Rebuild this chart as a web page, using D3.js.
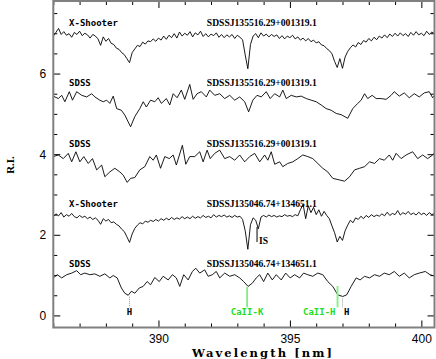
<!DOCTYPE html>
<html>
<head>
<meta charset="utf-8">
<script src="https://cdn.jsdelivr.net/npm/d3@7"></script>
<style>
  body { margin: 0; background: #fff; }
  svg { display: block; }
  .tick text { font-family: "Liberation Sans", Arial, sans-serif; font-size: 12px; fill: #000; }
  .tick line { stroke: #000; stroke-width: 1; }
  .lab { font-family: "DejaVu Sans Mono", monospace; font-weight: bold; font-size: 9px; }
  .obj { font-family: "Liberation Serif", serif; font-weight: bold; font-size: 9.6px; }
  .spec { fill: none; stroke: #000; stroke-width: 0.9; stroke-linejoin: round; }
</style>
</head>
<body>
<div id="chart"></div>
<script>
// ---- data: [wavelength nm, relative intensity] ----
var xsTop = [[386.0,6.93],[386.1,7.02],[386.2,7.12],[386.3,6.97],[386.4,7.04],[386.5,6.95],[386.6,6.99],[386.7,6.90],[386.8,7.02],[386.9,6.97],[387.0,7.05],[387.1,6.94],[387.2,7.00],[387.3,6.96],[387.4,6.88],[387.5,6.97],[387.6,6.93],[387.7,6.86],[387.8,6.70],[387.9,6.91],[388.0,6.80],[388.1,6.87],[388.2,6.75],[388.3,6.72],[388.4,6.63],[388.5,6.60],[388.6,6.52],[388.7,6.47],[388.8,6.37],[388.9,6.27],[389.0,6.52],[389.1,6.61],[389.2,6.70],[389.3,6.67],[389.4,6.78],[389.5,6.73],[389.6,6.81],[389.7,6.79],[389.8,6.86],[389.9,6.80],[390.0,6.88],[390.1,6.83],[390.2,6.93],[390.3,6.85],[390.4,6.95],[390.5,6.89],[390.6,6.99],[390.7,6.88],[390.8,7.03],[390.9,6.93],[391.0,7.00],[391.1,6.95],[391.2,7.04],[391.3,6.91],[391.4,7.01],[391.5,6.96],[391.6,7.05],[391.7,6.92],[391.8,6.99],[391.9,6.91],[392.0,6.98],[392.1,6.94],[392.2,7.01],[392.3,6.90],[392.4,6.97],[392.5,6.89],[392.6,6.96],[392.7,6.91],[392.8,6.97],[392.9,6.87],[393.0,6.95],[393.1,6.90],[393.2,6.84],[393.3,6.46],[393.4,6.12],[393.5,6.72],[393.6,6.93],[393.7,6.99],[393.8,6.89],[393.9,7.01],[394.0,6.93],[394.1,6.98],[394.2,6.91],[394.3,6.97],[394.4,6.92],[394.5,6.96],[394.6,6.87],[394.7,6.94],[394.8,6.86],[394.9,6.93],[395.0,6.89],[395.1,6.95],[395.2,6.86],[395.3,6.91],[395.4,6.83],[395.5,6.88],[395.6,6.81],[395.7,6.87],[395.8,6.79],[395.9,6.83],[396.0,6.76],[396.1,6.79],[396.2,6.71],[396.3,6.69],[396.4,6.62],[396.5,6.57],[396.6,6.49],[396.7,6.30],[396.8,6.15],[396.9,6.37],[397.0,6.13],[397.1,6.41],[397.2,6.55],[397.3,6.64],[397.4,6.71],[397.5,6.66],[397.6,6.77],[397.7,6.72],[397.8,6.82],[397.9,6.78],[398.0,6.87],[398.1,6.81],[398.2,6.90],[398.3,6.84],[398.4,6.93],[398.5,6.88],[398.6,6.96],[398.7,6.89],[398.8,6.98],[398.9,6.92],[399.0,7.00],[399.1,6.93],[399.2,7.01],[399.3,6.94],[399.4,6.99],[399.5,6.92],[399.6,7.02],[399.7,6.95],[399.8,7.04],[399.9,6.96],[400.0,7.00],[400.1,6.94],[400.2,7.05],[400.3,6.97],[400.4,7.03],[400.5,6.99]];

var sdssA = [[386.00,5.44],[386.19,5.38],[386.32,5.46],[386.44,5.30],[386.61,5.55],[386.73,5.34],[386.89,5.55],[387.08,5.46],[387.27,5.42],[387.46,5.50],[387.58,5.42],[387.77,5.34],[387.90,5.30],[388.03,5.34],[388.15,5.26],[388.28,5.44],[388.41,5.13],[388.59,5.09],[388.72,4.97],[388.94,4.68],[389.10,4.93],[389.29,5.13],[389.42,5.30],[389.54,5.17],[389.70,5.34],[389.86,5.30],[389.99,5.40],[390.11,5.26],[390.30,5.38],[390.43,5.22],[390.56,5.50],[390.71,5.40],[390.87,5.59],[391.00,5.36],[391.19,5.73],[391.32,5.36],[391.47,5.50],[391.63,5.55],[391.82,5.42],[391.95,5.59],[392.14,5.46],[392.33,5.50],[392.52,5.38],[392.71,5.46],[392.90,5.34],[393.09,5.42],[393.28,5.30],[393.43,5.05],[393.59,5.34],[393.75,5.46],[393.91,5.42],[394.10,5.55],[394.25,5.38],[394.42,5.50],[394.61,5.42],[394.73,5.59],[394.86,5.38],[395.05,5.46],[395.24,5.42],[395.43,5.44],[395.62,5.38],[395.81,5.34],[396.00,5.30],[396.19,5.22],[396.38,5.13],[396.57,5.09],[396.76,5.01],[396.95,4.98],[397.20,4.89],[397.39,5.13],[397.58,5.26],[397.71,5.34],[397.84,5.50],[397.96,5.38],[398.13,5.46],[398.28,5.38],[398.47,5.38],[398.66,5.36],[398.85,5.46],[398.97,5.55],[399.16,5.44],[399.35,5.52],[399.54,5.40],[399.73,5.50],[399.92,5.42],[400.11,5.52],[400.30,5.55],[400.43,5.40],[400.53,5.48]];

var sdssB = [[386.00,3.94],[386.19,3.98],[386.38,3.89],[386.57,4.02],[386.70,3.81],[386.86,4.06],[387.01,3.81],[387.16,3.94],[387.33,3.77],[387.49,3.89],[387.65,3.61],[387.84,3.73],[387.96,3.44],[388.15,3.56],[388.34,3.65],[388.53,3.56],[388.66,3.48],[388.81,3.30],[388.94,3.40],[389.10,3.42],[389.29,3.61],[389.48,3.69],[389.67,3.94],[389.80,3.85],[389.92,3.98],[390.08,3.65],[390.24,3.94],[390.41,3.89],[390.56,3.98],[390.68,3.73],[390.91,4.22],[391.04,3.75],[391.19,3.94],[391.38,3.94],[391.57,4.06],[391.70,3.81],[391.85,4.10],[391.97,3.89],[392.14,4.02],[392.33,4.10],[392.52,3.89],[392.71,3.94],[392.90,3.85],[393.09,3.98],[393.28,3.81],[393.47,3.94],[393.66,4.02],[393.85,3.81],[394.04,3.98],[394.16,3.85],[394.29,4.06],[394.42,3.75],[394.61,3.81],[394.73,3.69],[394.92,3.77],[395.11,3.81],[395.30,3.89],[395.49,3.98],[395.68,3.94],[395.87,3.89],[396.06,3.77],[396.25,3.65],[396.44,3.56],[396.63,3.40],[396.89,3.36],[397.08,3.33],[397.27,3.44],[397.46,3.61],[397.65,3.65],[397.84,3.69],[398.03,3.81],[398.22,3.77],[398.41,3.89],[398.59,3.85],[398.78,3.98],[398.91,3.85],[399.04,4.02],[399.23,3.89],[399.42,3.98],[399.67,4.06],[399.86,3.89],[400.05,3.98],[400.24,3.89],[400.43,3.98],[400.53,4.06]];

var xsBottom = [[386.0,2.45],[386.1,2.52],[386.2,2.47],[386.3,2.55],[386.4,2.44],[386.5,2.50],[386.6,2.46],[386.7,2.53],[386.8,2.45],[386.9,2.42],[387.0,2.48],[387.1,2.43],[387.2,2.46],[387.3,2.40],[387.4,2.44],[387.5,2.38],[387.6,2.42],[387.7,2.36],[387.8,2.26],[387.9,2.40],[388.0,2.34],[388.1,2.38],[388.2,2.30],[388.3,2.32],[388.4,2.26],[388.5,2.22],[388.6,2.14],[388.7,2.08],[388.8,1.95],[388.9,1.81],[389.0,2.02],[389.1,2.16],[389.2,2.24],[389.3,2.30],[389.4,2.27],[389.5,2.34],[389.6,2.31],[389.7,2.36],[389.8,2.33],[389.9,2.38],[390.0,2.34],[390.1,2.40],[390.2,2.36],[390.3,2.41],[390.4,2.37],[390.5,2.43],[390.6,2.38],[390.7,2.42],[390.8,2.39],[390.9,2.45],[391.0,2.40],[391.1,2.44],[391.2,2.40],[391.3,2.46],[391.4,2.41],[391.5,2.45],[391.6,2.42],[391.7,2.48],[391.8,2.43],[391.9,2.46],[392.0,2.42],[392.1,2.50],[392.2,2.44],[392.3,2.48],[392.4,2.45],[392.5,2.49],[392.6,2.44],[392.7,2.47],[392.8,2.43],[392.9,2.48],[393.0,2.44],[393.1,2.46],[393.2,2.38],[393.3,2.10],[393.4,1.64],[393.5,2.25],[393.6,2.42],[393.7,2.36],[393.8,2.15],[393.9,2.44],[394.0,2.48],[394.1,2.44],[394.2,2.49],[394.3,2.45],[394.4,2.48],[394.5,2.44],[394.6,2.47],[394.7,2.45],[394.8,2.50],[394.9,2.46],[395.0,2.48],[395.1,2.45],[395.2,2.50],[395.3,2.47],[395.4,2.62],[395.5,2.76],[395.6,2.40],[395.7,2.72],[395.8,2.55],[395.9,2.68],[396.0,2.50],[396.1,2.62],[396.2,2.46],[396.3,2.58],[396.4,2.48],[396.5,2.40],[396.6,2.22],[396.7,2.05],[396.8,1.82],[396.9,1.96],[397.0,1.86],[397.1,2.10],[397.2,2.24],[397.3,2.36],[397.4,2.30],[397.5,2.42],[397.6,2.38],[397.7,2.46],[397.8,2.40],[397.9,2.48],[398.0,2.43],[398.1,2.50],[398.2,2.45],[398.3,2.49],[398.4,2.46],[398.5,2.52],[398.6,2.47],[398.7,2.56],[398.8,2.48],[398.9,2.53],[399.0,2.50],[399.1,2.60],[399.2,2.49],[399.3,2.55],[399.4,2.51],[399.5,2.58],[399.6,2.50],[399.7,2.54],[399.8,2.49],[399.9,2.56],[400.0,2.50],[400.1,2.54],[400.2,2.48],[400.3,2.55],[400.4,2.50],[400.5,2.53]];

var sdssC = [[386.00,0.93],[386.15,1.01],[386.32,0.93],[386.51,1.01],[386.70,1.05],[386.89,1.11],[387.04,1.01],[387.20,1.05],[387.39,1.01],[387.58,1.03],[387.77,0.97],[387.96,1.03],[388.15,0.93],[388.28,0.99],[388.43,0.93],[388.59,0.68],[388.72,0.55],[388.85,0.50],[388.97,0.60],[389.10,0.55],[389.27,0.68],[389.42,0.72],[389.57,0.84],[389.70,0.76],[389.86,0.94],[390.03,0.84],[390.18,0.97],[390.37,0.88],[390.53,1.01],[390.68,0.93],[390.81,0.72],[390.96,1.01],[391.13,0.88],[391.29,1.09],[391.42,1.17],[391.57,1.05],[391.76,1.13],[391.89,0.97],[392.05,1.01],[392.20,1.09],[392.33,0.93],[392.52,1.05],[392.71,0.97],[392.90,1.01],[393.09,0.93],[393.24,0.84],[393.41,0.72],[393.57,0.80],[393.72,0.93],[393.85,1.01],[394.00,0.84],[394.16,1.05],[394.33,0.88],[394.48,1.01],[394.67,0.88],[394.84,1.05],[395.01,0.93],[395.18,1.01],[395.37,0.93],[395.52,1.05],[395.68,1.01],[395.87,0.97],[396.06,1.05],[396.25,1.01],[396.44,0.84],[396.63,0.72],[396.82,0.51],[397.01,0.47],[397.16,0.51],[397.33,0.72],[397.52,0.93],[397.67,0.88],[397.84,0.97],[398.03,0.93],[398.22,1.01],[398.41,0.97],[398.59,1.05],[398.78,1.01],[398.97,1.09],[399.16,0.97],[399.35,1.05],[399.54,0.93],[399.73,1.01],[399.92,1.05],[400.15,1.09],[400.33,1.01],[400.53,0.97]];

var spectra = [xsTop, sdssA, sdssB, xsBottom, sdssC];
var instruments = ["X-Shooter", "SDSS", "SDSS", "X-Shooter", "SDSS"];
var objects = ["SDSSJ135516.29+001319.1", "SDSSJ135516.29+001319.1", "SDSSJ135516.29+001319.1",
               "SDSSJ135046.74+134651.1", "SDSSJ135046.74+134651.1"];

var xMajor = [390, 395, 400];
var xMinor = [386, 387, 388, 389, 391, 392, 393, 394, 396, 397, 398, 399];
var yMajor = [0, 2, 4, 6];
var yMinor = [0.5, 1, 1.5, 2.5, 3, 3.5, 4.5, 5, 5.5, 6.5, 7, 7.5];

// line identifications (nm)
var lineH8 = 388.9, lineCaK = 393.37, lineCaH = 396.85, lineHe = 397.0, lineIS = 393.75;

// ---- layout ----
var fullWidth = 436, fullHeight = 359;
var margin = {top: 1, right: 1.5, bottom: 31.5, left: 53.3},
    width = fullWidth - margin.left - margin.right,
    height = fullHeight - margin.top - margin.bottom;

var svg = d3.select("#chart").append("svg")
    .attr("width", fullWidth)
    .attr("height", fullHeight);

var g = svg.append("g")
    .attr("transform", "translate(" + margin.left + "," + margin.top + ")");

var x = d3.scaleLinear().domain([386, 400.5]).range([0, width]);
var y = d3.scaleLinear().domain([-0.3, 7.8]).range([height, 0]);

g.append("clipPath").attr("id", "clip")
  .append("rect").attr("width", width).attr("height", height);

var line = d3.line()
    .x(function(d) { return x(d[0]); })
    .y(function(d) { return y(d[1]); });

g.append("g").attr("clip-path", "url(#clip)")
  .selectAll("path")
  .data(spectra)
  .enter().append("path")
    .attr("class", "spec")
    .attr("stroke-width", function(d, i) { return (i == 0 || i == 3) ? 0.8 : 0.9; })
    .attr("d", line);

// labels above each spectrum
var labelLevel = [7.17, 5.68, 4.18, 2.69, 1.21];
g.selectAll(".lab")
  .data(instruments)
  .enter().append("text")
    .attr("class", "lab")
    .attr("x", x(386.6))
    .attr("y", function(d, i) { return y(labelLevel[i]); })
    .text(function(d) { return d; });

g.selectAll(".obj")
  .data(objects)
  .enter().append("text")
    .attr("class", "obj")
    .attr("x", x(391.84))
    .attr("y", function(d, i) { return y(labelLevel[i]); })
    .text(function(d) { return d; });

// axes: major and minor ticks on all four sides, pointing inwards
function addAxis(axisFn, values, size, withLabels, transform) {
  var a = axisFn.tickValues(values).tickSize(-size);
  if (withLabels) a.tickPadding(7).tickFormat(d3.format("d"));
  else a.tickFormat("");
  var ag = g.append("g").attr("transform", transform).call(a);
  ag.select(".domain").remove();
  return ag;
}
addAxis(d3.axisBottom(x), xMinor, 4, false, "translate(0," + height + ")");
addAxis(d3.axisBottom(x), xMajor, 7, true, "translate(0," + height + ")");
addAxis(d3.axisTop(x), xMinor, 4, false, "translate(0,0)");
addAxis(d3.axisTop(x), xMajor, 7, false, "translate(0,0)");
addAxis(d3.axisLeft(y), yMinor, 4, false, "translate(0,0)");
addAxis(d3.axisLeft(y), yMajor, 7, true, "translate(0,0)");
addAxis(d3.axisRight(y), yMinor, 4, false, "translate(" + width + ",0)");
addAxis(d3.axisRight(y), yMajor, 7, false, "translate(" + width + ",0)");

g.selectAll(".tick text").attr("font-size", 12);

// frame
g.append("rect")
    .attr("width", width)
    .attr("height", height)
    .attr("fill", "none")
    .attr("stroke", "#808080")
    .attr("stroke-width", 2);

// line identifications
var green = "#22dd22";
var textY = y(0) - 0.5;

g.append("line")
    .attr("x1", x(lineH8)).attr("x2", x(lineH8))
    .attr("y1", y(0.46)).attr("y2", y(0.2))
    .attr("stroke", "#999").attr("stroke-dasharray", "1,1");
g.append("text").attr("class", "lab")
    .attr("x", x(lineH8)).attr("y", textY)
    .attr("text-anchor", "middle").text("H");

g.append("line")
    .attr("x1", x(lineCaK)).attr("x2", x(lineCaK))
    .attr("y1", y(0.71)).attr("y2", y(0.2))
    .attr("stroke", green).attr("stroke-width", 1);
g.append("text").attr("class", "lab")
    .attr("x", x(lineCaK)).attr("y", textY)
    .attr("text-anchor", "middle").attr("fill", green).text("CaII-K");

g.append("line")
    .attr("x1", x(lineCaH) - 1).attr("x2", x(lineCaH) - 1)
    .attr("y1", y(0.73)).attr("y2", y(0.2))
    .attr("stroke", "#8fef8f").attr("stroke-width", 2);
g.append("text").attr("class", "lab")
    .attr("x", x(lineCaH) - 3).attr("y", textY)
    .attr("text-anchor", "end").attr("fill", green).text("CaII-H");

g.append("line")
    .attr("x1", x(lineHe)).attr("x2", x(lineHe))
    .attr("y1", y(0.42)).attr("y2", y(0.2))
    .attr("stroke", "#999").attr("stroke-dasharray", "1,1");
g.append("text").attr("class", "lab")
    .attr("x", x(lineHe) + 1.5).attr("y", textY)
    .text("H");

g.append("line")
    .attr("x1", x(lineIS)).attr("x2", x(lineIS))
    .attr("y1", y(2.19)).attr("y2", y(1.82))
    .attr("stroke", "#000").attr("stroke-width", 1);
g.append("text").attr("class", "obj")
    .attr("x", x(lineIS) + 2).attr("y", y(1.76))
    .text("IS");

// axis titles
svg.append("text")
    .attr("x", 263).attr("y", 357)
    .attr("text-anchor", "middle")
    .style("font-family", "'DejaVu Serif', serif")
    .style("font-weight", "bold")
    .style("font-size", "11.5px")
    .style("letter-spacing", "2.1px")
    .text("Wavelength [nm]");

svg.append("text")
    .attr("transform", "translate(14,165) rotate(-90)")
    .attr("text-anchor", "middle")
    .style("font-family", "'Liberation Serif', serif")
    .style("font-weight", "bold")
    .style("font-size", "11px")
    .text("R.I.");
</script>
</body>
</html>
